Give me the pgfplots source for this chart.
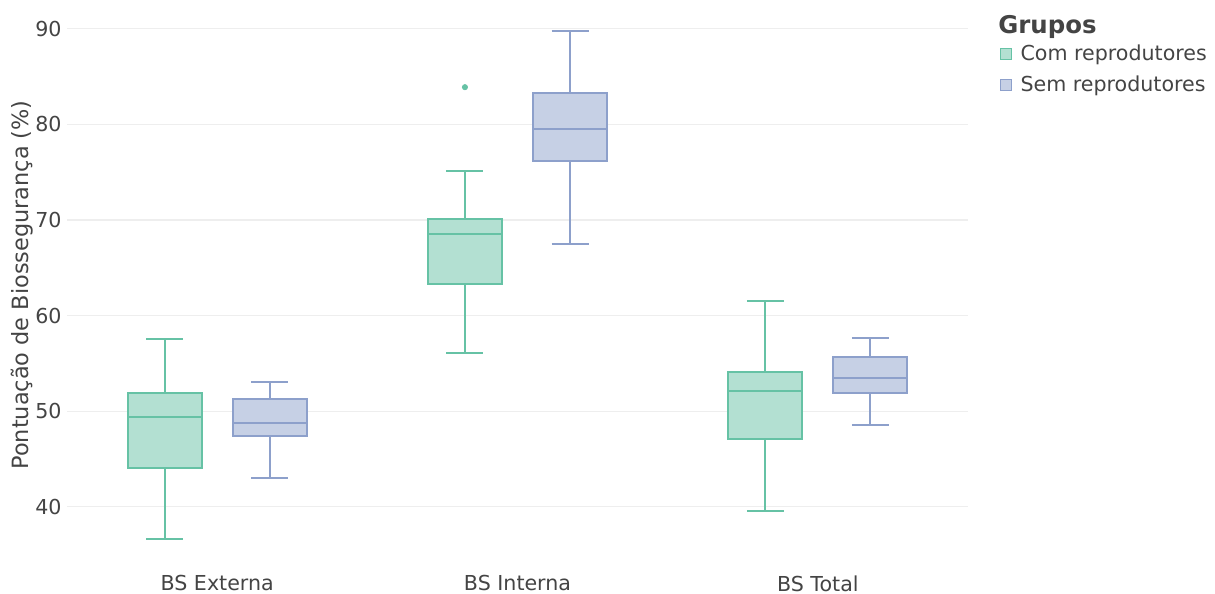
\documentclass[border=0pt]{standalone}
\usepackage{fontspec}
\setmainfont{DejaVu Sans}
\usepackage{pgfplots}
\pgfplotsset{compat=1.18}

\definecolor{comline}{HTML}{66C2A5}
\definecolor{comfill}{HTML}{B3E0D2}
\definecolor{semline}{HTML}{8DA0CB}
\definecolor{semfill}{HTML}{C6D0E5}
\definecolor{txt}{HTML}{444444}
\definecolor{gridc}{HTML}{EEEEEE}

% Box statistics per group (lower whisker, Q1, median, Q3, upper whisker)
% Com reprodutores:  Externa 36.6 44.1 49.4 51.9 57.5 | Interna 56.1 63.35 68.5 70.15 75.1 (outlier 83.9)
%                    Total   39.6 47.05 52.15 54.05 61.5
% Sem reprodutores:  Externa 43.0 47.45 48.75 51.25 53.1 | Interna 67.5 76.2 79.5 83.25 89.8
%                    Total   48.5 51.95 53.45 55.65 57.7
% Boxes are 0.246 wide, caps 0.123 wide, offset +-0.175 from each category.

\pgfplotsset{
  comb/.style={draw=comline, fill=comfill, line width=1bp, line join=miter, forget plot},
  semb/.style={draw=semline, fill=semfill, line width=1bp, line join=miter, forget plot},
  coml/.style={draw=comline, line width=1bp, mark=none, unbounded coords=jump, forget plot},
  seml/.style={draw=semline, line width=1bp, mark=none, unbounded coords=jump, forget plot},
}

\begin{document}
\begin{tikzpicture}
\path[use as bounding box] (0,0) rectangle (607.5bp,297bp);
\begin{axis}[
  at={(33.5bp,14.5bp)}, anchor=south west,
  scale only axis, width=450.5bp, height=280bp,
  xmin=-0.5, xmax=2.5, ymin=33.9, ymax=92.5,
  axis line style={draw=none},
  major tick length=0pt,
  xtick={0,1,2},
  xticklabels={BS Externa, BS Interna, BS Total},
  ytick={40,50,60,70,80,90},
  ymajorgrids, grid style={gridc, line width=0.6bp},
  /pgf/number format/assume math mode=true,
  tick label style={font=\fontsize{10.3bp}{12bp}\selectfont, text=txt},
  xticklabel style={anchor=north, inner sep=0pt, yshift=-5bp},
  yticklabel style={anchor=east, inner sep=0pt, xshift=-2.5bp},
  ylabel={Pontuação de Biossegurança (\%)},
  every axis y label/.style={at={(axis description cs:-0.05,0.5)}, rotate=90, anchor=center,
    font=\fontsize{11.2bp}{13bp}\selectfont, text=txt},
  legend style={at={(axis description cs:1.0355,0.936)}, anchor=north west,
    draw=none, fill=none, inner sep=0pt, outer sep=0pt,
    font=\fontsize{10.3bp}{12bp}\selectfont, text=txt,
    row sep=2.1bp, cells={anchor=west}},
  legend image code/.code={\draw[#1, line width=0.6bp] (0bp,-2.75bp) rectangle (5.5bp,2.75bp);
    \path[draw=none, fill=none] (0bp,0bp) -- (8bp,0bp);},
  clip=false,
]
% ---- Com reprodutores: whiskers, caps and medians
\addplot[coml] coordinates {
  (-0.2365,57.5) (-0.1135,57.5) (0,nan) (-0.175,57.5) (-0.175,51.9) (0,nan)
  (-0.175,44.1) (-0.175,36.6) (0,nan) (-0.2365,36.6) (-0.1135,36.6) (0,nan)
  (0.7635,75.1) (0.8865,75.1) (0,nan) (0.825,75.1) (0.825,70.15) (0,nan)
  (0.825,63.35) (0.825,56.1) (0,nan) (0.7635,56.1) (0.8865,56.1) (0,nan)
  (1.7635,61.5) (1.8865,61.5) (0,nan) (1.825,61.5) (1.825,54.05) (0,nan)
  (1.825,47.05) (1.825,39.6) (0,nan) (1.7635,39.6) (1.8865,39.6)
};
% boxes (Q1 to Q3)
\addplot[comb] coordinates {(-0.298,44.1) (-0.052,44.1) (-0.052,51.9) (-0.298,51.9)} -- cycle;
\addplot[comb] coordinates {(0.702,63.35) (0.948,63.35) (0.948,70.15) (0.702,70.15)} -- cycle;
\addplot[comb] coordinates {(1.702,47.05) (1.948,47.05) (1.948,54.05) (1.702,54.05)} -- cycle;
% medians
\addplot[coml] coordinates {
  (-0.298,49.4) (-0.052,49.4) (0,nan)
  (0.702,68.5) (0.948,68.5) (0,nan)
  (1.702,52.15) (1.948,52.15)
};
% outlier
\addplot[only marks, mark=*, mark size=1.3bp, draw=comline, fill=comline, forget plot]
  coordinates {(0.825,83.9)};

% ---- Sem reprodutores
\addplot[seml] coordinates {
  (0.1135,53.1) (0.2365,53.1) (0,nan) (0.175,53.1) (0.175,51.25) (0,nan)
  (0.175,47.45) (0.175,43.0) (0,nan) (0.1135,43.0) (0.2365,43.0) (0,nan)
  (1.1135,89.8) (1.2365,89.8) (0,nan) (1.175,89.8) (1.175,83.25) (0,nan)
  (1.175,76.2) (1.175,67.5) (0,nan) (1.1135,67.5) (1.2365,67.5) (0,nan)
  (2.1135,57.7) (2.2365,57.7) (0,nan) (2.175,57.7) (2.175,55.65) (0,nan)
  (2.175,51.95) (2.175,48.5) (0,nan) (2.1135,48.5) (2.2365,48.5)
};
\addplot[semb] coordinates {(0.052,47.45) (0.298,47.45) (0.298,51.25) (0.052,51.25)} -- cycle;
\addplot[semb] coordinates {(1.052,76.2) (1.298,76.2) (1.298,83.25) (1.052,83.25)} -- cycle;
\addplot[semb] coordinates {(2.052,51.95) (2.298,51.95) (2.298,55.65) (2.052,55.65)} -- cycle;
\addplot[seml] coordinates {
  (0.052,48.75) (0.298,48.75) (0,nan)
  (1.052,79.5) (1.298,79.5) (0,nan)
  (2.052,53.45) (2.298,53.45)
};

\addlegendimage{draw=comline, fill=comfill}
\addlegendentry{Com reprodutores}
\addlegendimage{draw=semline, fill=semfill}
\addlegendentry{Sem reprodutores}
\end{axis}
\node[anchor=west, inner sep=0pt, text=txt, font=\fontsize{12.2bp}{14bp}\selectfont\bfseries]
  at (499bp,283.5bp) {Grupos};
\end{tikzpicture}
\end{document}
